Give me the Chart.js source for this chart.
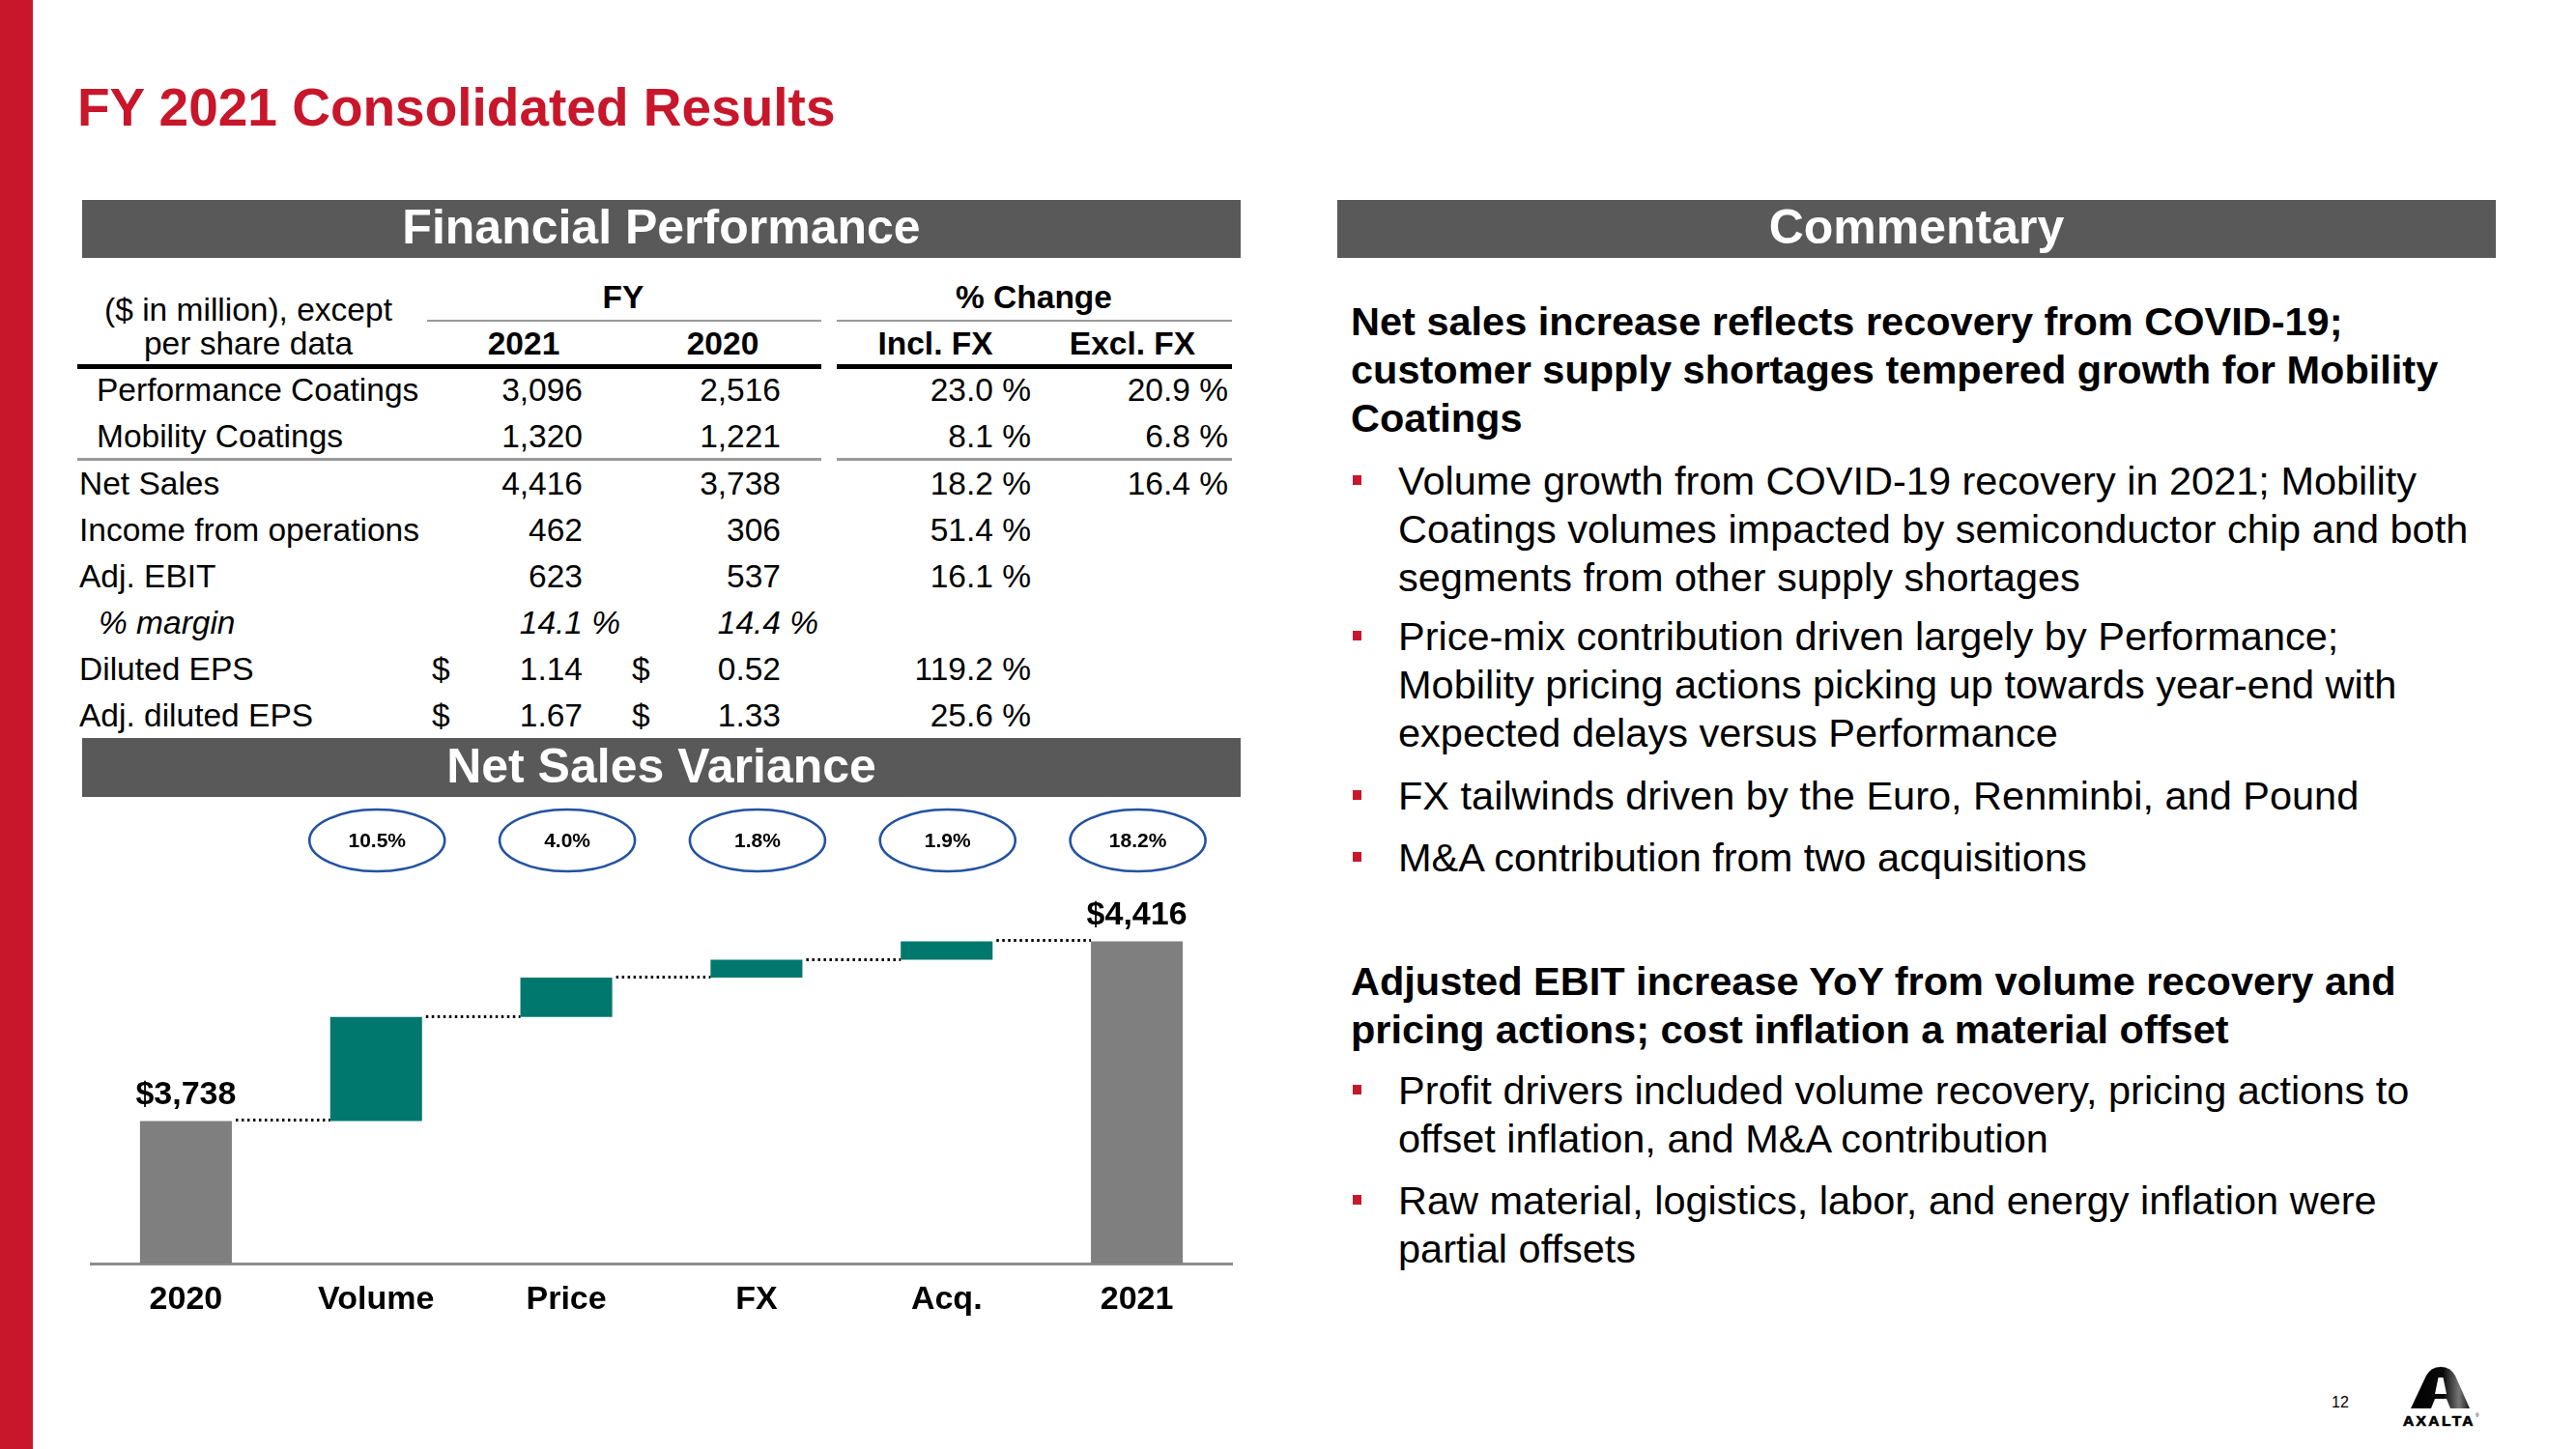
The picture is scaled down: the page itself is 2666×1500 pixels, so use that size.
<!DOCTYPE html>
<html lang="en">
<head>
<meta charset="UTF-8" />
<title>FY 2021 Consolidated Results</title>
<script src="https://cdn.jsdelivr.net/npm/chart.js"></script>
<style>
  body { margin: 0; background: #fff; }
  #slide { position: relative; width: 2666px; height: 1500px; overflow: hidden;
           font-family: "Liberation Sans", Arial, sans-serif; color: #000; }
  .abs { position: absolute; white-space: nowrap; line-height: 1; }
  .band { position: absolute; background: #595959; color: #fff; font-weight: bold; font-size: 50px;
          display: flex; align-items: center; justify-content: center; box-sizing: border-box; padding-bottom: 4px; }
  .rule { position: absolute; }
  #wf { position: absolute; left: 85px; top: 830px; }
</style>
</head>
<body>
<div id="slide">
  <div class="rule" style="left:0;top:0;width:34px;height:1500px;background:#C8162B"></div>

  <div class="band" style="left:85px;top:207px;width:1199px;height:60px">Financial Performance</div>
  <div class="band" style="left:1384px;top:207px;width:1199px;height:60px">Commentary</div>
  <div class="band" style="left:85px;top:764px;width:1199px;height:61px">Net Sales Variance</div>

  <!-- table rules -->
  <div class="rule" style="left:442px;top:331px;width:408px;height:2px;background:#9a9a9a"></div>
  <div class="rule" style="left:866px;top:331px;width:409px;height:2px;background:#9a9a9a"></div>
  <div class="rule" style="left:80px;top:377px;width:770px;height:5px;background:#000"></div>
  <div class="rule" style="left:866px;top:377px;width:409px;height:5px;background:#000"></div>
  <div class="rule" style="left:80px;top:474px;width:770px;height:3px;background:#9a9a9a"></div>
  <div class="rule" style="left:866px;top:474px;width:409px;height:3px;background:#9a9a9a"></div>

  <canvas id="wf" width="1199" height="550"></canvas>

  <svg class="abs" style="left:2480px;top:1405px" width="95" height="80" viewBox="2480 1405 95 80">
    <defs>
      <linearGradient id="gloss" x1="0" x2="1" y1="0" y2="0">
        <stop offset="0" stop-color="#000" />
        <stop offset="0.55" stop-color="#0a0a0a" />
        <stop offset="0.82" stop-color="#777" />
        <stop offset="1" stop-color="#1a1a1a" />
      </linearGradient>
    </defs>
    <path d="M2495 1458 L2511 1424 Q2516 1415 2526 1415 Q2536 1415 2541 1424 L2556 1458 Z" fill="url(#gloss)" />
    <path d="M2523.5 1426 L2528.5 1426 L2532 1443 L2520 1443 Z" fill="#fff" />
    <path d="M2516 1458 L2520 1448 L2532 1448 L2536 1458 Z" fill="#fff" />
    <text x="2487" y="1476" font-family="Liberation Sans, Arial" font-weight="bold" font-size="15.5"
          letter-spacing="2.4" stroke="#000" stroke-width="0.7">AXALTA</text>
    <text x="2562" y="1467" font-family="Liberation Sans, Arial" font-size="5">®</text>
  </svg>
</div>

<script>
  // ---- chart data (Net Sales Variance, $ millions) ----
  const categories = ["2020", "Volume", "Price", "FX", "Acq.", "2021"];
  const barValues = [3738, 392, 149, 67, 70, 4416];
  const barKinds = ["total", "delta", "delta", "delta", "delta", "total"];
  const totalLabels = ["$3,738", "", "", "", "", "$4,416"];
  const growthLabels = ["", "10.5%", "4.0%", "1.8%", "1.9%", "18.2%"];
  const AXIS_MIN = 3200;
  const AXIS_MAX = 4700;

  // ---- table data ----
  const rowLabels = ["Performance Coatings", "Mobility Coatings", "Net Sales", "Income from operations",
                     "Adj. EBIT", "% margin", "Diluted EPS", "Adj. diluted EPS"];
  const fy2021 = ["3,096", "1,320", "4,416", "462", "623", "14.1 %", "1.14", "1.67"];
  const fy2020 = ["2,516", "1,221", "3,738", "306", "537", "14.4 %", "0.52", "1.33"];
  const chgInclFx = ["23.0 %", "8.1 %", "18.2 %", "51.4 %", "16.1 %", "", "119.2 %", "25.6 %"];
  const chgExclFx = ["20.9 %", "6.8 %", "16.4 %", "", "", "", "", ""];
  const currency = ["", "", "", "", "", "", "$", "$"];

  // ---- commentary ----
  const commentary = [
    { head: true, lines: ["Net sales increase reflects recovery from COVID-19;",
                          "customer supply shortages tempered growth for Mobility", "Coatings"] },
    { lines: ["Volume growth from COVID-19 recovery in 2021; Mobility",
              "Coatings volumes impacted by semiconductor chip and both",
              "segments from other supply shortages"] },
    { lines: ["Price-mix contribution driven largely by Performance;",
              "Mobility pricing actions picking up towards year-end with",
              "expected delays versus Performance"] },
    { lines: ["FX tailwinds driven by the Euro, Renminbi, and Pound"] },
    { lines: ["M&A contribution from two acquisitions"] },
    { head: true, lines: ["Adjusted EBIT increase YoY from volume recovery and",
                          "pricing actions; cost inflation a material offset"] },
    { lines: ["Profit drivers included volume recovery, pricing actions to",
              "offset inflation, and M&A contribution"] },
    { lines: ["Raw material, logistics, labor, and energy inflation were",
              "partial offsets"] }
  ];

  const RED = "#C8162B";
  const FONT = '"Liberation Sans", Arial, sans-serif';
  const slide = document.getElementById("slide");

  // text placed by its baseline (line-height 1, Liberation Sans metrics)
  function txt(str, x, base, size, o = {}) {
    const el = document.createElement("div");
    el.className = "abs";
    el.textContent = str;
    el.style.fontSize = size + "px";
    el.style.left = x + "px";
    el.style.top = (base - size * 0.8465) + "px";
    if (o.bold) el.style.fontWeight = "bold";
    if (o.italic) el.style.fontStyle = "italic";
    if (o.color) el.style.color = o.color;
    if (o.align === "right") el.style.transform = "translateX(-100%)";
    if (o.align === "center") el.style.transform = "translateX(-50%)";
    slide.appendChild(el);
    return el;
  }

  txt("FY 2021 Consolidated Results", 80, 131, 55, { bold: true, color: RED });
  txt("12", 2413, 1458, 16);

  // table header
  const TS = 33.5;
  txt("FY", 645, 319, TS, { bold: true, align: "center" });
  txt("% Change", 1070, 319, TS, { bold: true, align: "center" });
  txt("($ in million), except", 257, 332, TS, { align: "center" });
  txt("per share data", 257, 367, TS, { align: "center" });
  txt("2021", 542, 367, TS, { bold: true, align: "center" });
  txt("2020", 748, 367, TS, { bold: true, align: "center" });
  txt("Incl. FX", 968, 367, TS, { bold: true, align: "center" });
  txt("Excl. FX", 1172, 367, TS, { bold: true, align: "center" });

  // table body
  const rowBase = [415, 463, 512, 560, 608, 656, 704, 752];
  const labelX = [100, 100, 82, 82, 82, 102, 82, 82];
  function fyCell(val, right, base, italic) {
    if (!val) return;
    const parts = val.split(" %");
    const el = txt(parts[0], right, base, TS, { align: "right", italic });
    if (parts.length > 1) {
      const pct = document.createElement("span");
      pct.textContent = "\u00a0%";
      pct.style.position = "absolute";
      pct.style.left = "100%";
      pct.style.top = "0";
      el.appendChild(pct);
    }
  }
  rowLabels.forEach((label, i) => {
    const italic = label.startsWith("%");
    txt(label, labelX[i], rowBase[i], TS, { italic });
    fyCell(fy2021[i], 603, rowBase[i], italic);
    fyCell(fy2020[i], 808, rowBase[i], italic);
    if (currency[i]) {
      txt(currency[i], 447, rowBase[i], TS);
      txt(currency[i], 654, rowBase[i], TS);
    }
    if (chgInclFx[i]) txt(chgInclFx[i], 1067, rowBase[i], TS, { align: "right" });
    if (chgExclFx[i]) txt(chgExclFx[i], 1271, rowBase[i], TS, { align: "right" });
  });

  // commentary
  const blockBase = [347, 512, 673, 838, 902, 1030, 1143, 1257];
  commentary.forEach((blk, b) => {
    blk.lines.forEach((line, k) => {
      const base = blockBase[b] + k * 50.2;
      txt(line, blk.head ? 1398 : 1447, base, 41.5, { bold: !!blk.head });
    });
    if (!blk.head) {
      const sq = document.createElement("div");
      sq.className = "rule";
      sq.style.cssText = `left:1400px;top:${blockBase[b] - 20}px;width:9px;height:10px;background:${RED}`;
      slide.appendChild(sq);
    }
  });

  // ---- waterfall ----
  let run = 0;
  const floating = barValues.map((v, i) => {
    if (barKinds[i] === "total") { run = v; return [AXIS_MIN, v]; }
    const seg = [run, run + v];
    run += v;
    return seg;
  });

  const waterfallDecor = {
    id: "waterfallDecor",
    afterDatasetsDraw(chart) {
      const { ctx, chartArea } = chart;
      const y = chart.scales.y;
      const bars = chart.getDatasetMeta(0).data;
      ctx.save();
      // dotted connectors
      ctx.strokeStyle = "#000";
      ctx.lineWidth = 3;
      ctx.setLineDash([2.5, 3.5]);
      for (let i = 0; i < bars.length - 1; i++) {
        const py = Math.round(y.getPixelForValue(floating[i][1])) - 0.5;
        ctx.beginPath();
        ctx.moveTo(bars[i].x + bars[i].width / 2 + 4, py);
        ctx.lineTo(bars[i + 1].x - bars[i + 1].width / 2, py);
        ctx.stroke();
      }
      ctx.setLineDash([]);
      // total labels
      ctx.fillStyle = "#000";
      ctx.textAlign = "center";
      ctx.textBaseline = "alphabetic";
      ctx.font = "bold 34px " + FONT;
      bars.forEach((bar, i) => {
        if (totalLabels[i]) ctx.fillText(totalLabels[i], bar.x, y.getPixelForValue(floating[i][1]) - 17);
      });
      // growth ellipses
      const cy = chartArea.top - 26.5;
      ctx.font = "bold 21px " + FONT;
      ctx.textBaseline = "middle";
      bars.forEach((bar, i) => {
        if (!growthLabels[i]) return;
        ctx.beginPath();
        ctx.ellipse(bar.x + 1, cy, 70, 32, 0, 0, Math.PI * 2);
        ctx.strokeStyle = "#2352A0";
        ctx.lineWidth = 2.6;
        ctx.stroke();
        ctx.fillText(growthLabels[i], bar.x + 1, cy + 1);
      });
      ctx.restore();
    }
  };

  new Chart(document.getElementById("wf").getContext("2d"), {
    type: "bar",
    data: {
      labels: categories,
      datasets: [{
        data: floating,
        backgroundColor: barKinds.map((k) => (k === "total" ? "#7F7F7F" : "#00786D")),
        borderWidth: 0,
        barPercentage: 0.483,
        categoryPercentage: 1
      }]
    },
    options: {
      responsive: false,
      devicePixelRatio: 1,
      animation: false,
      layout: { padding: { top: 66.5, left: 9, right: 9, bottom: 0 } },
      plugins: { legend: { display: false }, tooltip: { enabled: false } },
      scales: {
        x: {
          grid: { display: false, drawTicks: false },
          border: { display: true, color: "#8c8c8c", width: 3 },
          ticks: { color: "#000", padding: 17, maxRotation: 0, font: { family: FONT, size: 34, weight: "bold" } },
          afterFit: (s) => { s.height = 72; }
        },
        y: { display: false, min: AXIS_MIN, max: AXIS_MAX }
      }
    },
    plugins: [waterfallDecor]
  });
</script>
</body>
</html>
